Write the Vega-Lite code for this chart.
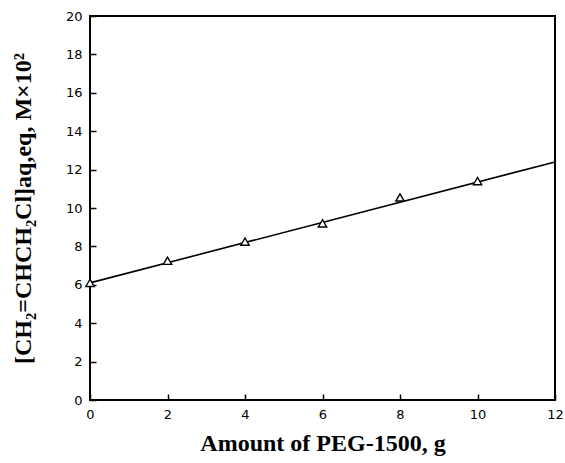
{
  "$schema": "https://vega.github.io/schema/vega-lite/v6.json",
  "width": 465,
  "height": 384,
  "autosize": "none",
  "padding": {"left": 90, "top": 16, "right": 10, "bottom": 63},
  "background": "white",
  "config": {
    "view": {"stroke": "black", "strokeWidth": 2},
    "axis": {
      "grid": false,
      "domain": false,
      "ticks": true,
      "tickColor": "black",
      "tickWidth": 1.5,
      "tickSize": -6,
      "labelFont": "DejaVu Sans",
      "labelFontSize": 13,
      "labelColor": "black",
      "labelOverlap": false,
      "labelFlush": false,
      "titleFont": "Liberation Serif",
      "titleFontWeight": "bold",
      "titleColor": "black"
    }
  },
  "datasets": {
    "measured": [
      {"peg": 0, "conc": 6.1},
      {"peg": 2, "conc": 7.25},
      {"peg": 4, "conc": 8.25},
      {"peg": 6, "conc": 9.2},
      {"peg": 8, "conc": 10.55},
      {"peg": 10, "conc": 11.4}
    ],
    "fit": [
      {"peg": 0, "conc": 6.1},
      {"peg": 12, "conc": 12.4}
    ]
  },
  "encoding": {
    "x": {
      "field": "peg",
      "type": "quantitative",
      "scale": {"domain": [0, 12], "nice": false},
      "axis": {
        "values": [0, 2, 4, 6, 8, 10, 12],
        "labelOverlap": false,
        "labelFlush": false,
        "title": "Amount of PEG-1500, g",
        "titleFontSize": 24,
        "titlePadding": 10,
        "labelPadding": 14
      }
    },
    "y": {
      "field": "conc",
      "type": "quantitative",
      "scale": {"domain": [0, 20], "nice": false},
      "axis": {
        "values": [0, 2, 4, 6, 8, 10, 12, 14, 16, 18, 20],
        "labelOverlap": false,
        "labelFlush": false,
        "title": "[CH₂=CHCH₂Cl]aq,eq, M×10²",
        "titleFontSize": 24,
        "titlePadding": 30,
        "labelPadding": 14
      }
    }
  },
  "layer": [
    {
      "data": {"name": "fit"},
      "mark": {"type": "line", "color": "black", "strokeWidth": 1.6}
    },
    {
      "data": {"name": "measured"},
      "mark": {"type": "point", "shape": "triangle-up", "filled": true, "fill": "white", "stroke": "black", "strokeWidth": 1.4, "size": 70, "opacity": 1}
    }
  ]
}
